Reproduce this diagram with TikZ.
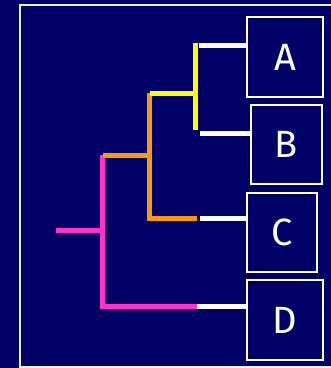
\documentclass[tikz,border=0pt]{standalone}
\usepackage{fontspec}
\setmainfont{Fira Sans}
\definecolor{navy}{HTML}{000066}
\definecolor{treepink}{HTML}{FF33CC}
\definecolor{treeorange}{HTML}{FF9900}
\definecolor{treeyellow}{HTML}{FFFF00}
\begin{document}
\begin{tikzpicture}[x=1pt, y=-1pt,
    taxon/.style={draw=white, line width=1.3pt, text=white, inner sep=0pt,
      font=\fontsize{38}{38}\selectfont},
    branch/.style={line width=5pt}]
  % Background and frame
  \useasboundingbox (0,0) rectangle (331,368);
  \fill[navy] (0,0) rectangle (331,368);
  \draw[white!90!gray, line width=1.3pt] (335,5) -- (20,5) -- (20,367) -- (335,367);

  % Taxa boxes
  \node[taxon, minimum width=76pt, minimum height=80pt] (a) at (285,57) {A};
  \node[taxon, minimum width=71pt, minimum height=79pt] (b) at (286.5,144.5) {B};
  \node[taxon, minimum width=70pt, minimum height=79pt] (c) at (282,232.5) {C};
  \node[taxon, minimum width=76pt, minimum height=80pt] (d) at (285,320) {D};

  % Junctions of the tree
  \coordinate (root) at (56,230);
  \coordinate (n1) at (103,230);
  \coordinate (n1t) at (103,155);
  \coordinate (n1b) at (103,306);
  \coordinate (n2) at (150,155);
  \coordinate (n2t) at (150,93);
  \coordinate (n2b) at (150,218);
  \coordinate (n3) at (196,93);
  \coordinate (n3t) at (196,43);
  \coordinate (n3b) at (196,130);

  % Pink: root and outgroup D
  \draw[branch, treepink] (root) -- (n1);
  \draw[branch, treepink] (n1t) -- (n1b) -- ++(94,0) coordinate (dend);
  % Orange: clade ABC
  \draw[branch, treeorange] (n1t) -- (n2);
  \draw[branch, treeorange] (n2t) -- (n2b) -- ++(47,0) coordinate (cend);
  % Yellow: clade AB
  \draw[branch, treeyellow] (n2t) -- (n3);
  \draw[branch, treeyellow] (n3t) -- (n3b);

  % White tips
  \draw[branch, white] ([xshift=3pt]n3t |- 0,45) coordinate (aend) -- (aend -| a.west);
  \draw[branch, white] ([xshift=4pt]n3b |- 0,133) coordinate (bend) -- (bend -| b.west);
  \draw[branch, white] ([xshift=3pt]cend) -- (cend -| c.west);
  \draw[branch, white] (dend) -- (dend -| d.west);
\end{tikzpicture}
\end{document}
